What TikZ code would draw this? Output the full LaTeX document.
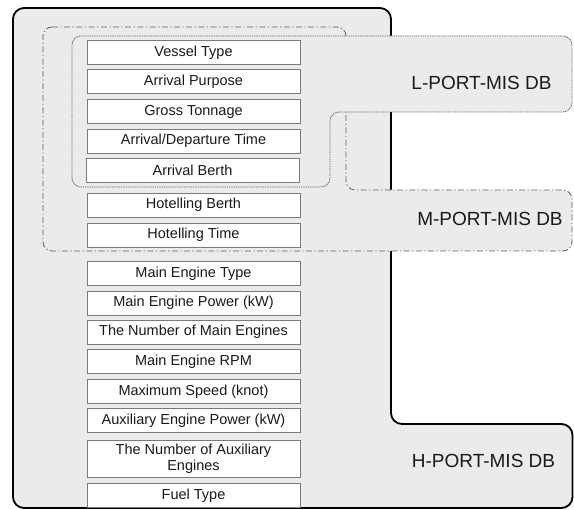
\documentclass[tikz,border=0pt]{standalone}
\usepackage{fontspec}
\setmainfont{Liberation Sans}
\begin{document}
\begin{tikzpicture}[x=1pt,y=-1pt,
  fieldbox/.style={draw=boxgray, fill=white, line width=0.9pt, minimum width=213pt, minimum height=24pt, inner sep=1pt, font=\fontsize{14.5}{16}\selectfont, text=textdark, align=center},
  dblabel/.style={font=\fontsize{19}{22}\selectfont, text=textdark},
  hregion/.style={draw=black, line width=1.8pt, fill=regiongray, rounded corners=11pt},
  mregion/.style={draw=linegray, line width=0.8pt, fill=regiongray, rounded corners=9pt, dash pattern=on 6pt off 2.5pt on 1.2pt off 2.5pt},
  lregion/.style={draw=linegray, line width=0.8pt, fill=regiongray, rounded corners=9pt, dash pattern=on 1pt off 0.8pt}]
\definecolor{regiongray}{HTML}{EBEBEB}
\definecolor{boxgray}{HTML}{7A7A7A}
\definecolor{linegray}{HTML}{606060}
\definecolor{textdark}{HTML}{1A1A1A}
\useasboundingbox (0,0) rectangle (574,510);
% H region
\draw[hregion] (13,8) -- (391,8) -- (391,424) -- (572.5,424) -- (572.5,508) -- (13,508) -- cycle;
% M region
\draw[mregion] (43,27) -- (346,27) -- (346,190) -- (572,190) -- (572,251) -- (43,251) -- cycle;
% L region
\draw[lregion] (72,36) -- (572,36) -- (572,112) -- (330,112) -- (330,187) -- (72,187) -- cycle;
% fields
\node[fieldbox] (vt) at (193.5,52.5) {Vessel Type};
\node[fieldbox] (ap) at (193.5,81.5) {Arrival Purpose};
\node[fieldbox] (gt) at (193.5,111.5) {Gross Tonnage};
\node[fieldbox] (adt) at (193.5,141) {Arrival/Departure Time};
\node[fieldbox] (ab) at (192.5,170.5) {Arrival Berth};
\node[fieldbox] (hb) at (193.5,205) {Hotelling Berth};
\node[fieldbox] (ht) at (193.5,235) {Hotelling Time};
\node[fieldbox] (met) at (193.5,273.5) {Main Engine Type};
\node[fieldbox] (mep) at (193.5,303) {Main Engine Power (kW)};
\node[fieldbox] (nme) at (193.5,332) {The Number of Main Engines};
\node[fieldbox] (rpm) at (193.5,361.5) {Main Engine RPM};
\node[fieldbox] (ms) at (193.5,391.5) {Maximum Speed (knot)};
\node[fieldbox] (aep) at (193.5,420.5) {Auxiliary Engine Power (kW)};
\node[fieldbox, minimum height=37pt] (nae) at (193.5,458.5) {The Number of Auxiliary\\Engines};
\node[fieldbox] (ft) at (193.5,495.5) {Fuel Type};
% labels
\node[dblabel] (llab) at (481.5,83) {L-PORT-MIS DB};
\node[dblabel] (mlab) at (490,219) {M-PORT-MIS DB};
\node[dblabel] (hlab) at (483.5,461) {H-PORT-MIS DB};
\end{tikzpicture}
\end{document}
